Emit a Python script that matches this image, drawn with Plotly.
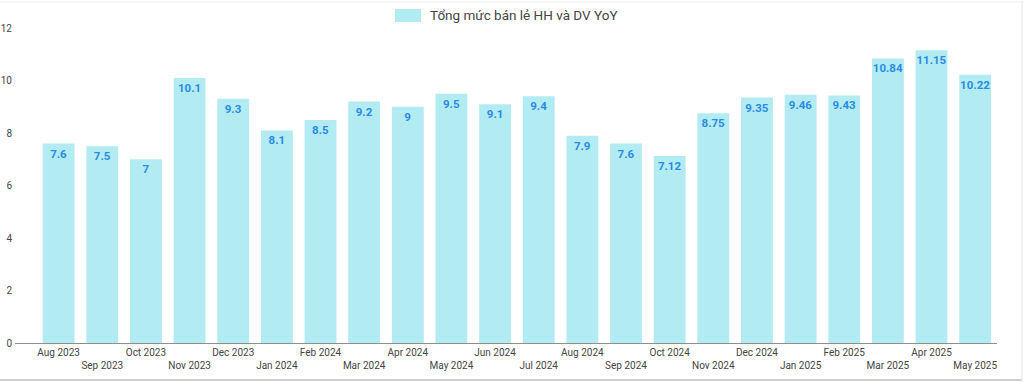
import plotly.graph_objects as go

months = ["Aug 2023", "Sep 2023", "Oct 2023", "Nov 2023", "Dec 2023", "Jan 2024",
          "Feb 2024", "Mar 2024", "Apr 2024", "May 2024", "Jun 2024", "Jul 2024",
          "Aug 2024", "Sep 2024", "Oct 2024", "Nov 2024", "Dec 2024", "Jan 2025",
          "Feb 2025", "Mar 2025", "Apr 2025", "May 2025"]
values = [7.6, 7.5, 7, 10.1, 9.3, 8.1, 8.5, 9.2, 9, 9.5, 9.1, 9.4,
          7.9, 7.6, 7.12, 8.75, 9.35, 9.46, 9.43, 10.84, 11.15, 10.22]
value_labels = ["7.6", "7.5", "7", "10.1", "9.3", "8.1", "8.5", "9.2", "9", "9.5", "9.1", "9.4",
                "7.9", "7.6", "7.12", "8.75", "9.35", "9.46", "9.43", "10.84", "11.15", "10.22"]
series_name = "Tổng mức bán lẻ HH và DV YoY"
y_ticks = [0, 2, 4, 6, 8, 10, 12]

bar_color = "#B2EBF2"
label_color = "#2A8BE3"

x_idx = list(range(len(months)))
tick_text = [m if i % 2 == 0 else "<br>" + m for i, m in enumerate(months)]

fig = go.Figure()
fig.add_trace(go.Bar(
    x=x_idx, y=values, name=series_name,
    marker=dict(color=bar_color, line=dict(width=0)),
    text=value_labels, textposition="inside", insidetextanchor="end",
    textangle=0, constraintext="none",
    textfont=dict(family="Roboto", size=11.5, color=label_color, weight="bold"),
    showlegend=False,
))

fig.update_layout(
    width=1024, height=382,
    margin=dict(l=15, r=27, t=28, b=39, autoexpand=False),
    paper_bgcolor="white", plot_bgcolor="white",
    bargap=0.27,
    font=dict(family="Roboto", color="#444"),
    xaxis=dict(
        range=[-1.0, 21.5], tickmode="array", tickvals=x_idx, ticktext=tick_text,
        tickangle=0,
        showgrid=False, zeroline=False, showline=True, linecolor="#8f8f8f", linewidth=1,
        ticks="", tickfont=dict(size=10, color="#444"), automargin=False,
    ),
    yaxis=dict(
        range=[0, 12], tickmode="array", tickvals=y_ticks,
        showgrid=False, zeroline=False, showline=False,
        ticks="", tickfont=dict(size=10, color="#444"), automargin=False,
        ticklabelstandoff=2,
    ),
    shapes=[
        # legend swatch
        dict(type="rect", xref="paper", yref="paper",
             x0=(395 - 15) / 982, x1=(421 - 15) / 982,
             y0=(343 - 22) / 315, y1=(343 - 9) / 315,
             fillcolor=bar_color, line=dict(width=0)),
        # card border
        dict(type="line", xref="paper", yref="paper",
             x0=-15 / 982, x1=1.0 + 25 / 982, y0=-(380 - 343) / 315, y1=-(380 - 343) / 315,
             line=dict(color="#cfcfcf", width=2)),
        dict(type="line", xref="paper", yref="paper",
             x0=1.0 + (1022 - 997) / 982, x1=1.0 + (1022 - 997) / 982,
             y0=-(380 - 343) / 315, y1=1 + 27 / 315,
             line=dict(color="#e6e6e6", width=1)),
        dict(type="line", xref="paper", yref="paper",
             x0=-15 / 982, x1=1.0 + 25 / 982, y0=1 + 26 / 315, y1=1 + 26 / 315,
             line=dict(color="#f0f0f0", width=1)),
    ],
    annotations=[
        dict(text=series_name, xref="paper", yref="paper",
             x=(428 - 15) / 982, y=(343 - 15.5) / 315,
             xanchor="left", yanchor="middle", showarrow=False,
             font=dict(family="Roboto", size=13.5, color="#444")),
    ],
)

fig.write_html("out.html", config={"displayModeBar": False},
               post_script="document.body.style.margin='0';document.body.style.overflow='hidden';")
